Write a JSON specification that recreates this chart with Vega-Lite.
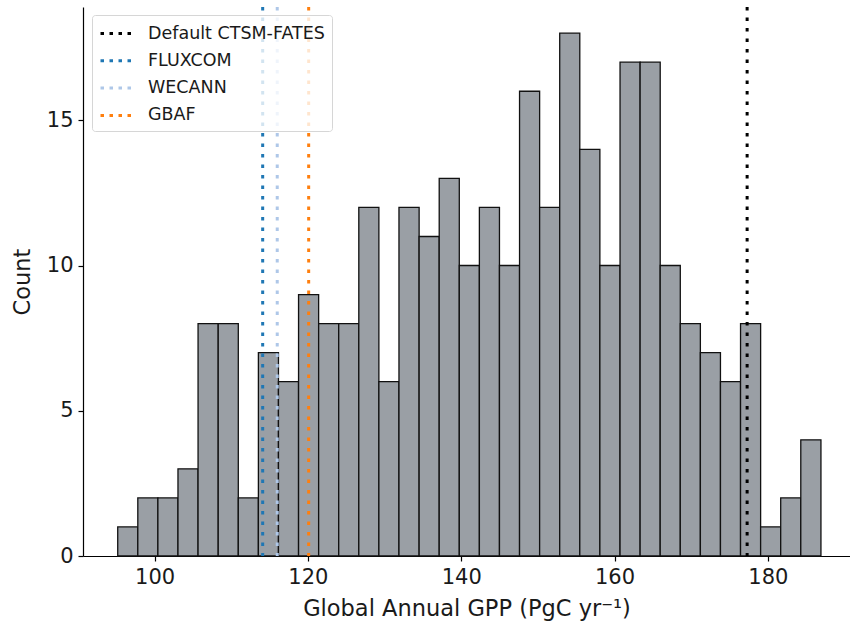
{
  "$schema": "https://vega.github.io/schema/vega-lite/v6.json",
  "width": 767,
  "height": 549,
  "autosize": {"type": "none"},
  "padding": {"left": 83, "top": 7, "right": 0, "bottom": 74},
  "background": "white",
  "config": {
    "view": {"stroke": null},
    "font": "DejaVu Sans",
    "axis": {
      "domainColor": "#000000",
      "domainWidth": 1.2,
      "tickColor": "#000000",
      "tickWidth": 1.2,
      "tickSize": 5,
      "grid": false,
      "labelColor": "#1a1a1a",
      "titleColor": "#1a1a1a",
      "labelFont": "DejaVu Sans",
      "titleFont": "DejaVu Sans",
      "titleFontWeight": "normal",
      "labelFontSize": 21,
      "titleFontSize": 22.5
    }
  },
  "layer": [
    {
      "data": {
        "values": [
          {"lo": 95.19, "hi": 97.81, "count": 1},
          {"lo": 97.81, "hi": 100.43, "count": 2},
          {"lo": 100.43, "hi": 103.05, "count": 2},
          {"lo": 103.05, "hi": 105.67, "count": 3},
          {"lo": 105.67, "hi": 108.3, "count": 8},
          {"lo": 108.3, "hi": 110.92, "count": 8},
          {"lo": 110.92, "hi": 113.54, "count": 2},
          {"lo": 113.54, "hi": 116.16, "count": 7},
          {"lo": 116.16, "hi": 118.78, "count": 6},
          {"lo": 118.78, "hi": 121.4, "count": 9},
          {"lo": 121.4, "hi": 124.02, "count": 8},
          {"lo": 124.02, "hi": 126.64, "count": 8},
          {"lo": 126.64, "hi": 129.26, "count": 12},
          {"lo": 129.26, "hi": 131.88, "count": 6},
          {"lo": 131.88, "hi": 134.51, "count": 12},
          {"lo": 134.51, "hi": 137.13, "count": 11},
          {"lo": 137.13, "hi": 139.75, "count": 13},
          {"lo": 139.75, "hi": 142.37, "count": 10},
          {"lo": 142.37, "hi": 144.99, "count": 12},
          {"lo": 144.99, "hi": 147.61, "count": 10},
          {"lo": 147.61, "hi": 150.23, "count": 16},
          {"lo": 150.23, "hi": 152.85, "count": 12},
          {"lo": 152.85, "hi": 155.47, "count": 18},
          {"lo": 155.47, "hi": 158.09, "count": 14},
          {"lo": 158.09, "hi": 160.72, "count": 10},
          {"lo": 160.72, "hi": 163.34, "count": 17},
          {"lo": 163.34, "hi": 165.96, "count": 17},
          {"lo": 165.96, "hi": 168.58, "count": 10},
          {"lo": 168.58, "hi": 171.2, "count": 8},
          {"lo": 171.2, "hi": 173.82, "count": 7},
          {"lo": 173.82, "hi": 176.44, "count": 6},
          {"lo": 176.44, "hi": 179.06, "count": 8},
          {"lo": 179.06, "hi": 181.68, "count": 1},
          {"lo": 181.68, "hi": 184.3, "count": 2},
          {"lo": 184.3, "hi": 186.93, "count": 4}
        ]
      },
      "mark": {"type": "bar", "fill": "#9a9fa5", "stroke": "#111111", "strokeWidth": 1.3, "opacity": 1},
      "encoding": {
        "x": {
          "field": "lo",
          "type": "quantitative",
          "scale": {"domain": [90.66, 190.72], "nice": false, "zero": false},
          "axis": {"values": [100, 120, 140, 160, 180], "title": "Global Annual GPP (PgC yr⁻¹)", "labelPadding": 5, "titlePadding": 10}
        },
        "x2": {"field": "hi"},
        "y": {
          "field": "count",
          "type": "quantitative",
          "scale": {"domain": [0, 18.9], "nice": false},
          "axis": {"values": [0, 5, 10, 15], "title": "Count", "labelPadding": 5, "titlePadding": 12}
        },
        "y2": {"datum": 0}
      }
    },
    {
      "data": {
        "values": [
          {"source": "Default CTSM-FATES", "gpp": 177.3},
          {"source": "FLUXCOM", "gpp": 114.1},
          {"source": "WECANN", "gpp": 116.0},
          {"source": "GBAF", "gpp": 120.1}
        ]
      },
      "mark": {"type": "rule", "strokeDash": [3.5, 7], "strokeWidth": 3},
      "encoding": {
        "x": {"field": "gpp", "type": "quantitative"},
        "color": {
          "field": "source",
          "type": "nominal",
          "scale": {
            "domain": ["Default CTSM-FATES", "FLUXCOM", "WECANN", "GBAF"],
            "range": ["#000000", "#1f77b4", "#aec7e8", "#ff7f0e"]
          },
          "legend": {
            "title": null,
            "orient": "none",
            "legendX": 9,
            "legendY": 8,
            "symbolType": "M-1.8,0L1.8,0",
            "symbolSize": 400,
            "symbolStrokeWidth": 3,
            "symbolDash": [3.5, 5.5],
            "labelFontSize": 17.5,
            "labelColor": "#1a1a1a",
            "labelFont": "DejaVu Sans",
            "labelLimit": 0,
            "labelOffset": 18,
            "symbolOffset": 8,
            "rowPadding": 7.3,
            "padding": 7,
            "fillColor": "rgba(255,255,255,0.8)",
            "strokeColor": "#d6d6d6",
            "cornerRadius": 3
          }
        }
      }
    }
  ]
}
